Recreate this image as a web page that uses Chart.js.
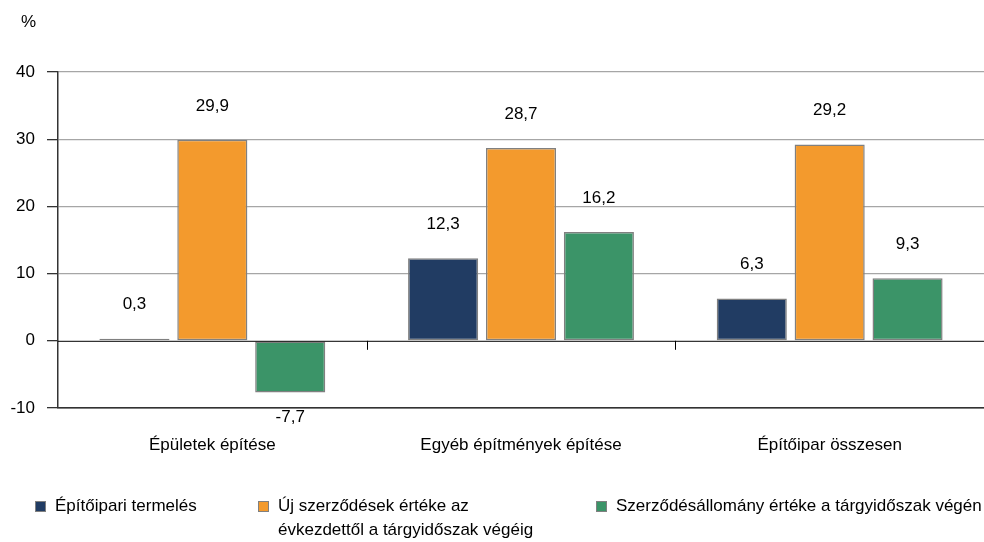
<!DOCTYPE html>
<html lang="hu">
<head>
<meta charset="utf-8">
<script src="https://cdn.jsdelivr.net/npm/chart.js@4.4.1/dist/chart.umd.min.js"></script>
<style>
  body { margin: 0; background: #fff; overflow: hidden; }
  #wrap { position: relative; width: 984px; height: 542px; overflow: hidden; }
  #legend { position: absolute; left: 0; top: 494px; width: 984px; font: 17px "Liberation Sans", Arial, sans-serif; color: #000; }
  .item { position: absolute; top: 0; line-height: 24px; white-space: nowrap; }
  .item.wrap { white-space: normal; }
  .item .box { position: absolute; left: 0; top: 7px; width: 9px; height: 9px; border: 1px solid #808080; }
  .item .txt { margin-left: 20px; }
</style>
</head>
<body>
<div id="wrap">
  <canvas id="chart" width="984" height="542"></canvas>
  <div id="legend"></div>
</div>
<script>
// Kategóriák és sorozatok
const categories = ['Épületek építése', 'Egyéb építmények építése', 'Építőipar összesen'];
const seriesNames = [
  'Építőipari termelés',
  'Új szerződések értéke az évkezdettől a tárgyidőszak végéig',
  'Szerződésállomány értéke a tárgyidőszak végén'
];
const termeles = [0.3, 12.3, 6.3];
const ujSzerzodesek = [29.9, 28.7, 29.2];
const allomany = [-7.7, 16.2, 9.3];
const yTicks = [-10, 0, 10, 20, 30, 40];

const colors = ['#213C63', '#F39A2D', '#3B9468'];
const FONT = '"Liberation Sans", Arial, sans-serif';
const FSIZE = 17;

// Adatcímkék a oszlopok fölött / alatt
const valueLabels = {
  id: 'valueLabels',
  afterDatasetsDraw(chart) {
    const ctx = chart.ctx;
    ctx.save();
    ctx.font = FSIZE + 'px ' + FONT;
    ctx.fillStyle = '#000';
    ctx.textAlign = 'center';
    ctx.textBaseline = 'middle';
    chart.data.datasets.forEach((ds, i) => {
      chart.getDatasetMeta(i).data.forEach((bar, j) => {
        const v = ds.data[j];
        const y = v >= 0 ? bar.y - 34 : bar.y + 25;
        ctx.fillText(v.toFixed(1).replace('.', ','), bar.x, y);
      });
    });
    ctx.restore();
  }
};

// Nulla vonal osztásjelei és a % felirat
const extras = {
  id: 'extras',
  afterDraw(chart) {
    const ctx = chart.ctx;
    const x = chart.scales.x, y = chart.scales.y;
    const y0 = y.getPixelForValue(0);
    ctx.save();
    ctx.strokeStyle = '#000';
    ctx.lineWidth = 1;
    ctx.beginPath();
    ctx.moveTo(chart.chartArea.left, y0 + 0.5);
    ctx.lineTo(chart.chartArea.right, y0 + 0.5);
    for (let i = 1; i < categories.length; i++) {
      const px = Math.round((x.getPixelForTick(i - 1) + x.getPixelForTick(i)) / 2) + 0.5;
      ctx.moveTo(px, y0);
      ctx.lineTo(px, y0 + 9);
    }
    ctx.stroke();
    ctx.font = FSIZE + 'px ' + FONT;
    ctx.fillStyle = '#000';
    ctx.textAlign = 'left';
    ctx.textBaseline = 'middle';
    ctx.fillText('%', 21, 22);
    ctx.restore();
  }
};

const seriesData = [termeles, ujSzerzodesek, allomany];

const chart = new Chart(document.getElementById('chart'), {
  type: 'bar',
  data: {
    labels: categories,
    datasets: seriesNames.map((name, i) => ({
      label: name,
      data: seriesData[i],
      backgroundColor: colors[i],
      borderColor: '#808080',
      borderWidth: 1.5,
      borderSkipped: false,
      barPercentage: 0.9,
      categoryPercentage: 0.757
    }))
  },
  options: {
    responsive: false,
    animation: false,
    layout: { padding: { top: 72, right: 0, left: 0, bottom: 0 } },
    plugins: {
      legend: { display: false },
      tooltip: { enabled: false }
    },
    scales: {
      x: {
        grid: { display: false, drawTicks: false },
        border: { color: '#333', width: 1.5 },
        ticks: { color: '#000', font: { family: FONT, size: FSIZE }, padding: 27, maxRotation: 0 },
        afterFit(scale) { scale.height = 134; }
      },
      y: {
        min: -10,
        max: 40,
        afterBuildTicks(scale) { scale.ticks = yTicks.map(v => ({ value: v })); },
        grid: {
          color: ctx => ctx.tick.value === 0 ? 'rgba(0,0,0,0)' : (ctx.tick.value === -10 ? '#333' : '#a6a6a6'),
          lineWidth: 1.3,
          tickLength: 11,
          tickColor: '#333'
        },
        border: { color: '#333', width: 1.5 },
        ticks: { color: '#000', font: { family: FONT, size: FSIZE }, padding: 12 },
        afterFit(scale) { scale.width = 58; }
      }
    }
  },
  plugins: [valueLabels, extras]
});

// Jelmagyarázat HTML-ben (a második tétel két sorba törik)
const legendPos = [35, 258, 596];
const legend = document.getElementById('legend');
seriesNames.forEach((name, i) => {
  const item = document.createElement('div');
  item.className = i === 1 ? 'item wrap' : 'item';
  item.style.left = legendPos[i] + 'px';
  if (i === 1) item.style.width = '280px';
  item.innerHTML = '<span class="box" style="background:' + colors[i] + '"></span><div class="txt">' + name + '</div>';
  legend.appendChild(item);
});
</script>
</body>
</html>
